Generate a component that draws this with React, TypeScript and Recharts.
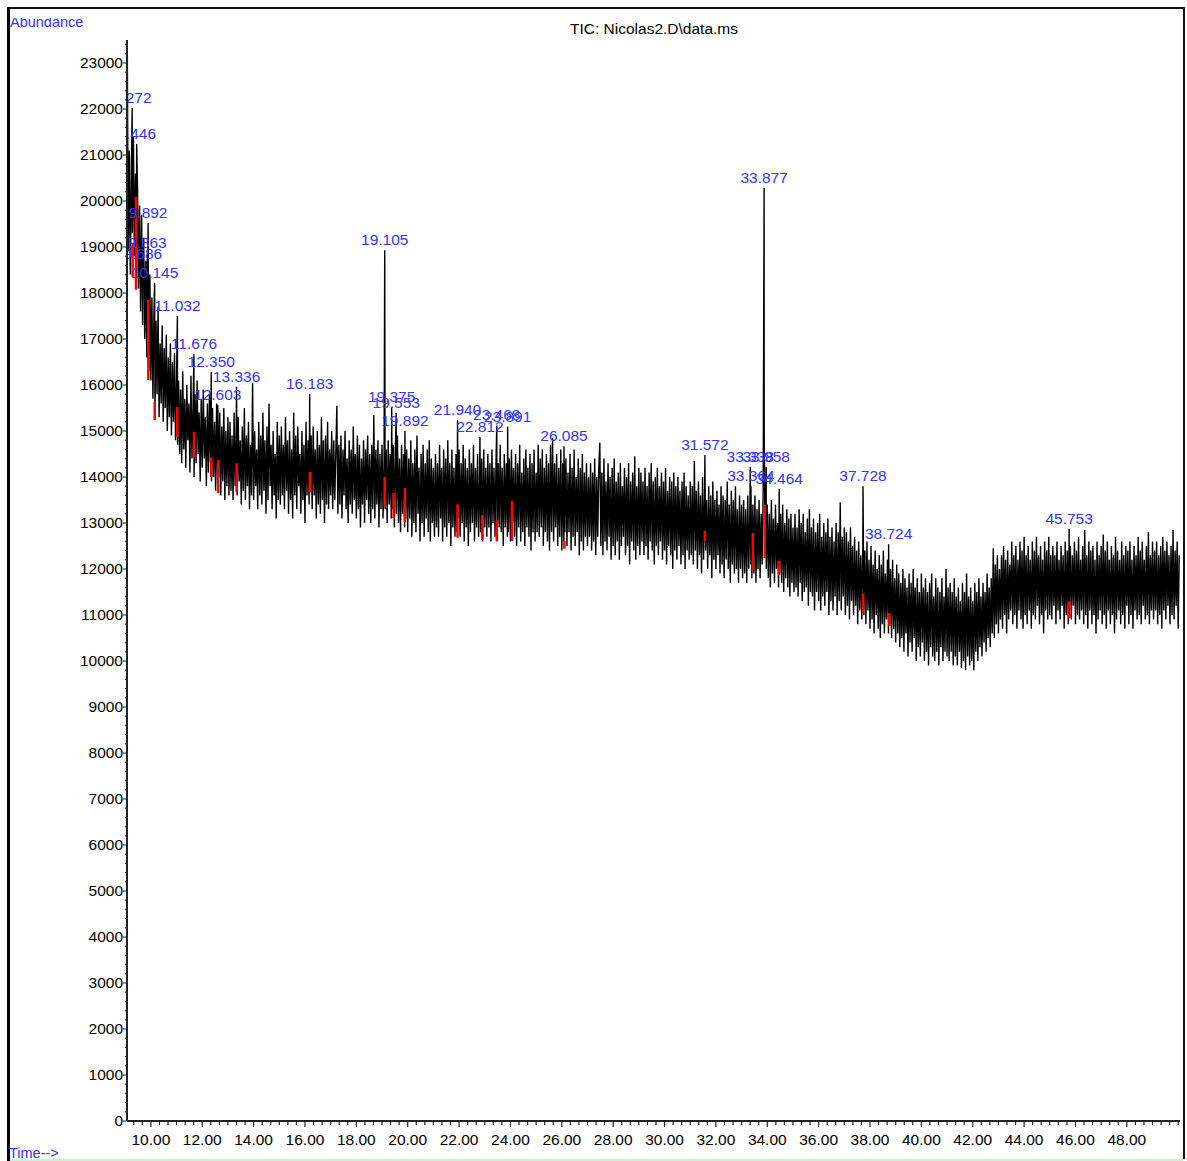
import React from 'react';
import { ComposedChart, Line, Scatter, XAxis, YAxis } from 'recharts';

// Layout of the chromatogram window
const WIDTH = 1187;
const HEIGHT = 1161;
const PLOT_LEFT = 127;
const PLOT_RIGHT = 1180;
const PLOT_TOP = 40;
const PLOT_BOTTOM = 1121;

const FONT = '"Liberation Sans", Arial, sans-serif';
const FONT_SIZE = 15.5;
const LABEL_BLUE = '#3535ff';
const AXIS_COLOR = '#222';

// Total ion current, one scan block every 0.04 min starting at 9.08 min,
// kept in 2-minute runs
const SCAN_START = 9.08;
const SCAN_STEP = 0.04;

const tic_0908 = [
  23450, 18900, 21100, 18400, 20700, 19300, 21400, 18800, 20600, 18300,
  20300, 18100, 19900, 17600, 19700, 17300, 19200, 17000, 18700, 16600,
  18200, 16300, 18400, 16100, 17900, 15700, 17600, 15400, 17400, 15800,
  17700, 15300, 16900, 15600, 17300, 15200, 16800, 15500, 17100, 15000,
  16600, 15300, 16900, 14900, 16500, 15200, 16700, 14800, 16200, 14700,
];
const tic_1108 = [
  16100, 14500, 15900, 14300, 16300, 14600, 15700, 14200, 16000, 14800,
  15600, 14100, 16200, 14400, 15500, 14000, 15800, 14300, 16100, 14500,
  15400, 13900, 15700, 14200, 15900, 14400, 15300, 13800, 15600, 14100,
  15800, 14300, 13900, 15500, 14000, 15200, 13700, 15600, 13800, 14000,
  15400, 13600, 15100, 13900, 15500, 13500, 15000, 13800, 15300, 13600,
];
const tic_1308 = [
  15200, 13700, 14900, 13500, 15400, 13800, 15000, 13600, 15300, 13900,
  14800, 13400, 15100, 13700, 15500, 13500, 14900, 13800, 15200, 13300,
  14700, 13600, 16050, 13500, 15000, 13800, 14600, 13300, 15200, 13600,
  14900, 13400, 15400, 13700, 14800, 13200, 15100, 13500, 15600, 13800,
  14700, 13300, 15000, 13600, 14500, 13100, 15200, 13500, 14900, 13400,
];
const tic_1508 = [
  15100, 13600, 14700, 13300, 15300, 13700, 14800, 13200, 15000, 13500,
  14600, 13100, 15400, 13600, 14900, 13300, 15100, 13800, 14500, 13200,
  15000, 13500, 14700, 13000, 15200, 13600, 14800, 13400, 13700, 14900,
  13300, 15100, 13600, 14600, 13100, 15000, 13400, 14700, 13200, 15300,
  13500, 14800, 13000, 14900, 13400, 15200, 13300, 14600, 13600, 15000,
];
const tic_1708 = [
  13300, 14800, 13500, 14500, 15550, 13200, 14700, 13400, 14900, 13100,
  14600, 13600, 15000, 13300, 14400, 13000, 14800, 13400, 14600, 13200,
  15100, 13500, 14500, 13100, 14900, 13300, 14700, 12900, 14400, 13400,
  14800, 13000, 14600, 13500, 14900, 13200, 14500, 13000, 14700, 13300,
  15350, 13100, 14600, 13400, 14800, 12900, 14500, 13300, 14700, 13100,
];
const tic_1908 = [
  14400, 13300, 14600, 13000, 14800, 13400, 14500, 13100, 13300, 14700,
  12900, 14600, 13200, 14900, 13000, 14400, 12800, 14700, 13200, 14500,
  12900, 13100, 14600, 12800, 14400, 13100, 14800, 12700, 14300, 13000,
  14600, 12800, 14900, 13200, 14200, 12600, 14500, 13000, 14700, 12700,
  14300, 13100, 14600, 12800, 14800, 12600, 14400, 13000, 14200, 12700,
];
const tic_2108 = [
  14500, 12900, 14300, 12700, 14700, 13100, 14200, 12600, 14600, 12900,
  14400, 12700, 14800, 13000, 14300, 12500, 14600, 12900, 14200, 12700,
  14500, 12800, 13100, 14600, 12700, 14300, 13000, 14700, 12600, 14400,
  12900, 14200, 12500, 14600, 12800, 14300, 13000, 14700, 12600, 14200,
  12900, 14500, 12700, 14100, 12800, 14400, 12600, 14600, 12900, 14200,
];
const tic_2308 = [
  12700, 14500, 12900, 14300, 12600, 14600, 13000, 14200, 12700, 14400,
  12600, 14300, 12900, 14700, 12800, 14200, 12500, 14500, 12900, 14300,
  12700, 12800, 14400, 12600, 14600, 13000, 14200, 12700, 14500, 12500,
  14300, 12900, 14700, 12600, 14100, 12800, 14400, 12500, 14600, 12900,
  14200, 12700, 14500, 12400, 14300, 12800, 14600, 12600, 14100, 12800,
];
const tic_2508 = [
  14700, 12700, 14400, 12900, 14600, 12500, 14200, 12800, 14500, 12600,
  14300, 12400, 14700, 12800, 14850, 12600, 14300, 12900, 14500, 12500,
  14200, 12700, 14600, 12400, 14300, 12600, 12800, 14400, 12500, 14100,
  12800, 14500, 12400, 14200, 12700, 14600, 12500, 14000, 12800, 14400,
  12300, 14200, 12600, 14500, 12400, 14100, 12700, 14300, 12500, 14000,
];
const tic_2708 = [
  12700, 14300, 12400, 14100, 12600, 14400, 12300, 14000, 12700, 14200,
  14750, 12500, 14100, 12300, 14400, 12600, 13900, 12400, 14300, 12700,
  14000, 12200, 14200, 12500, 14400, 12300, 13900, 12600, 14100, 12200,
  14300, 12500, 13800, 12700, 14200, 12300, 14000, 12500, 14300, 12100,
  13900, 12600, 14100, 12400, 14450, 12200, 13800, 12500, 14200, 12300,
];
const tic_2908 = [
  14100, 12600, 13900, 12300, 14200, 12500, 13800, 12200, 14100, 12600,
  14300, 12400, 13900, 12100, 14000, 12500, 14200, 12300, 13800, 12600,
  14100, 12200, 13900, 12400, 14200, 12100, 13700, 12500, 14000, 12300,
  13900, 12000, 14100, 12400, 13800, 12200, 14000, 12500, 13700, 12100,
  13900, 12300, 14100, 12000, 13800, 12400, 13600, 12200, 13900, 12300,
];
const tic_3108 = [
  13800, 12100, 14350, 12400, 13700, 12000, 13900, 12300, 13600, 11900,
  14000, 12200, 13700, 12400, 13500, 12000, 13800, 12300, 13600, 11800,
  13900, 12200, 13500, 12000, 13700, 12300, 13400, 11900, 13800, 12100,
  13600, 11800, 13500, 12200, 13900, 12000, 13400, 11700, 13700, 12100,
  13500, 11900, 13800, 12000, 13300, 11700, 13600, 12000, 13400, 11800,
];
const tic_3308 = [
  13500, 11900, 13300, 11700, 13600, 12000, 13200, 12100, 11800, 13400,
  11900, 13600, 11700, 13300, 12000, 13500, 11800, 13200, 12100, 13700,
  15000, 12300, 12000, 13400, 11800, 13200, 11600, 13500, 11900, 13100,
  11700, 13400, 12000, 13000, 11600, 11900, 13200, 11700, 13400, 11500,
  13000, 11800, 13300, 11600, 13100, 11400, 13200, 11700, 12900, 11500,
];
const tic_3508 = [
  13200, 11600, 12900, 11400, 13300, 11700, 13000, 11300, 13200, 11500,
  12800, 11600, 13100, 11200, 13300, 11500, 12900, 11400, 13100, 11100,
  12800, 11500, 13000, 11300, 13200, 11100, 12700, 11400, 13000, 11200,
  12800, 11500, 13100, 11000, 12700, 11300, 12900, 11100, 12600, 11400,
  13000, 11000, 12800, 11300, 13450, 11100, 12700, 11400, 12900, 11000,
];
const tic_3708 = [
  12800, 11200, 12600, 10900, 12900, 11300, 12500, 11000, 12700, 11200,
  12400, 10800, 12600, 11100, 12300, 10900, 12500, 11000, 12400, 10800,
  12600, 11100, 12200, 10700, 12500, 10900, 12100, 10600, 12400, 11000,
  12000, 10700, 12300, 10500, 12100, 10800, 12400, 10600, 11900, 10900,
  12200, 10600, 10800, 12000, 10500, 12200, 10700, 11800, 10400, 12100,
];
const tic_3908 = [
  10600, 11900, 10300, 11700, 10500, 12000, 10200, 11800, 10600, 11600,
  10100, 11900, 10400, 11700, 10200, 12000, 10500, 11600, 10000, 11800,
  10300, 11500, 10100, 11900, 10400, 11600, 10000, 11800, 10200, 11500,
  9900, 11700, 10300, 11900, 10100, 11400, 10000, 11800, 10200, 11600,
  9900, 11500, 10300, 11800, 10000, 11400, 10200, 12000, 10100, 11600,
];
const tic_4108 = [
  10000, 11700, 10200, 11500, 9900, 11800, 10100, 11400, 9900, 11600,
  10200, 11300, 9850, 11700, 10000, 11500, 9800, 11900, 10100, 11400,
  9900, 11600, 10000, 11300, 9800, 11700, 10200, 11500, 10000, 11800,
  10300, 11400, 10100, 11700, 10400, 11500, 10200, 11900, 10500, 11600,
  10300, 11800, 10600, 12450, 10500, 12100, 10800, 12300, 10600, 12000,
];
const tic_4308 = [
  10900, 12300, 10700, 12500, 11000, 12200, 10600, 12400, 10900, 12100,
  11100, 12600, 10800, 12300, 11000, 12500, 10700, 12200, 11100, 12600,
  10900, 12400, 10700, 12700, 11000, 12300, 10800, 12500, 11100, 12200,
  10700, 12600, 11000, 12400, 10900, 12700, 11200, 12300, 10800, 12500,
  11000, 12200, 10600, 12600, 11100, 12400, 10900, 12700, 11000, 12300,
];
const tic_4508 = [
  10900, 12500, 11200, 12300, 10800, 12600, 11100, 12200, 10900, 12500,
  11200, 12300, 10700, 12600, 11000, 12400, 10800, 11100, 12500, 10900,
  12300, 11200, 12600, 10800, 12400, 11000, 12700, 10900, 12200, 11100,
  12500, 10800, 12850, 11000, 12300, 10700, 12600, 11100, 12400, 10800,
  12500, 11000, 12200, 10600, 12600, 10900, 12300, 11100, 12500, 10800,
];
const tic_4708 = [
  12750, 11000, 12400, 10700, 12600, 11100, 12200, 10800, 12500, 11000,
  12300, 10600, 12700, 10900, 12400, 11100, 12200, 10800, 12600, 11000,
  12300, 10700, 12500, 11200, 12400, 10800, 12600, 11000, 12200, 10700,
  12500, 11100, 12300, 10900, 12700, 11000, 12400, 10800, 12600, 11200,
  12200, 10900, 12500, 11000, 12800, 10800, 12300, 11100, 12600, 10900,
];
const tic_4908 = [
  12400, 11100, 12600, 10800, 12300, 11000, 12500, 10700, 12700, 11100,
  12400, 10900, 12600, 11200, 12300, 10800, 12500, 11000, 12850, 10900,
  12400, 11200, 12600, 10700, 12300,
];

const TIC_RUNS = [
  tic_0908, tic_1108, tic_1308, tic_1508, tic_1708, tic_1908, tic_2108,
  tic_2308, tic_2508, tic_2708, tic_2908, tic_3108, tic_3308, tic_3508,
  tic_3708, tic_3908, tic_4108, tic_4308, tic_4508, tic_4708, tic_4908,
];

// Integrated peaks: apex retention time (min) and apex abundance
const PEAK_TIMES = [
  9.272, 9.446, 9.686, 9.863, 9.892, 10.145, 11.032, 11.676, 12.35, 12.603,
  13.336, 16.183, 19.105, 19.375, 19.553, 19.892, 21.94, 22.812, 23.468, 23.891,
  26.085, 31.572, 33.338, 33.364, 33.877, 33.958, 34.464, 37.728, 38.724, 45.753,
];
const PEAK_ABUNDANCE = [
  22020, 21240, 18630, 18870, 19520, 18220, 17500, 16670, 16280, 15565,
  15960, 15800, 18930, 15520, 15390, 15000, 15240, 14870, 15120, 15090,
  14670, 14480, 14220, 13800, 20280, 14220, 13740, 13800, 12540, 12870,
];

// Integrated (red) portions of the trace: time, lower and upper abundance
const RED_TIMES = [
  9.29, 9.42, 9.9, 10.15, 11.03, 11.68, 12.35, 12.62, 13.34, 16.19,
  19.105, 19.45, 19.89, 21.94, 22.9, 23.47, 24.06, 26.1, 31.57, 33.44,
  33.9, 34.46, 37.73, 38.75, 45.76,
];
const RED_LOW = [
  18350, 18070, 16110, 15240, 14870, 14430, 14000, 13650, 13670, 13670,
  13350, 13110, 13020, 12680, 12630, 12610, 12610, 12440, 12610, 11980,
  12240, 11870, 11040, 10760, 10930,
];
const RED_HIGH = [
  19090, 20090, 17850, 15630, 15520, 14980, 14430, 14370, 14300, 14110,
  14000, 13650, 13760, 13410, 13170, 13060, 13480, 12610, 12830, 12780,
  13390, 12180, 11460, 11040, 11300,
];

// Axis ticks
const Y_MAJOR = [
  0, 1000, 2000, 3000, 4000, 5000, 6000, 7000, 8000, 9000, 10000, 11000,
  12000, 13000, 14000, 15000, 16000, 17000, 18000, 19000, 20000, 21000, 22000, 23000,
];
const X_MAJOR = [10, 12, 14, 16, 18, 20, 22, 24, 26, 28, 30, 32, 34, 36, 38, 40, 42, 44, 46, 48];
const X_DOMAIN: [number, number] = [9.07, 50.07];
const Y_DOMAIN: [number, number] = [0, 23500];

const samples = TIC_RUNS.flat().map((a, i) => ({
  t: Math.round((SCAN_START + i * SCAN_STEP) * 1000) / 1000,
  a,
}));
const peaks = PEAK_TIMES.map((t, i) => ({ t, a: PEAK_ABUNDANCE[i], label: t.toFixed(3) }));
const trace = [...samples, ...peaks.map((p) => ({ t: p.t, a: p.a }))].sort((p, q) => p.t - q.t);
const redPath = RED_TIMES.flatMap((t, i) => [
  { t, r: RED_LOW[i] },
  { t, r: RED_HIGH[i] },
  { t, r: null },
]);

const yTicks = Array.from({ length: 118 }, (_, k) => k * 200);
const xTicks = Array.from({ length: 123 }, (_, k) => Math.round((9 + (k + 1) / 3) * 10000) / 10000);

const isMajorX = (v: number) => X_MAJOR.some((m) => Math.abs(m - v) < 1e-6);

const YTick = (props: any) => {
  const { y, payload } = props;
  const v = payload.value as number;
  const major = Y_MAJOR.includes(v);
  return (
    <g>
      <line x1={PLOT_LEFT - (major ? 4 : 2)} x2={PLOT_LEFT} y1={y} y2={y} stroke={AXIS_COLOR} strokeWidth={1} />
      {major && (
        <text
          x={PLOT_LEFT - 4}
          y={y + 5}
          textAnchor="end"
          fontFamily={FONT}
          fontSize={FONT_SIZE}
          fill="#000"
        >
          {v}
        </text>
      )}
    </g>
  );
};

const XTick = (props: any) => {
  const { x, payload } = props;
  const v = payload.value as number;
  const major = isMajorX(v);
  return (
    <g>
      <line x1={x} x2={x} y1={PLOT_BOTTOM} y2={PLOT_BOTTOM + (major ? 6 : 4)} stroke={AXIS_COLOR} strokeWidth={1.2} />
      {major && (
        <text
          x={x}
          y={PLOT_BOTTOM + 24}
          textAnchor="middle"
          fontFamily={FONT}
          fontSize={FONT_SIZE}
          fill="#000"
        >
          {v.toFixed(2)}
        </text>
      )}
    </g>
  );
};

const PeakLabel = (props: any) => {
  const { cx, cy, payload } = props;
  if (cx == null || cy == null) return <g />;
  return (
    <text
      x={cx}
      y={cy - 5}
      textAnchor="middle"
      fontFamily={FONT}
      fontSize={FONT_SIZE}
      fill={LABEL_BLUE}
      clipPath="url(#plot-clip)"
    >
      {payload.label}
    </text>
  );
};

export default function App() {
  return (
    <div style={{ position: 'relative', width: WIDTH, height: HEIGHT, background: '#fff' }}>
      <style>{'body{margin:0;}'}</style>
      <ComposedChart
        width={WIDTH}
        height={HEIGHT}
        data={trace}
        margin={{ top: PLOT_TOP, right: WIDTH - PLOT_RIGHT, bottom: 0, left: 0 }}
      >
        <XAxis
          dataKey="t"
          type="number"
          domain={X_DOMAIN}
          ticks={xTicks}
          interval={0}
          height={HEIGHT - PLOT_BOTTOM}
          tickLine={false}
          axisLine={{ stroke: AXIS_COLOR, strokeWidth: 2 }}
          tick={<XTick />}
        />
        <YAxis
          type="number"
          domain={Y_DOMAIN}
          ticks={yTicks}
          interval={0}
          width={PLOT_LEFT}
          tickLine={false}
          axisLine={{ stroke: AXIS_COLOR, strokeWidth: 2 }}
          tick={<YTick />}
        />
        <Line
          dataKey="a"
          type="linear"
          stroke="#000"
          strokeWidth={1.4}
          dot={false}
          activeDot={false}
          isAnimationActive={false}
        />
        <Line
          data={redPath}
          dataKey="r"
          type="linear"
          stroke="#ff0000"
          strokeWidth={2.5}
          dot={false}
          activeDot={false}
          connectNulls={false}
          isAnimationActive={false}
        />
        <Scatter data={peaks} dataKey="a" shape={<PeakLabel />} isAnimationActive={false} />
      </ComposedChart>
      <svg
        width={WIDTH}
        height={HEIGHT}
        style={{ position: 'absolute', left: 0, top: 0, pointerEvents: 'none' }}
      >
        <defs>
          <clipPath id="plot-clip" clipPathUnits="userSpaceOnUse">
            <rect x={PLOT_LEFT + 1} y={0} width={WIDTH - PLOT_LEFT} height={HEIGHT} />
          </clipPath>
        </defs>
        <line x1={7} x2={1185} y1={8} y2={8} stroke="#111" strokeWidth={2} />
        <line x1={8.5} x2={8.5} y1={7} y2={HEIGHT} stroke="#000" strokeWidth={3} />
        <line x1={1184} x2={1184} y1={7} y2={HEIGHT - 2} stroke="#111" strokeWidth={2} />
        <line x1={10} x2={1183} y1={HEIGHT - 1} y2={HEIGHT - 1} stroke="#c9f5c9" strokeWidth={2} />
        <text x={654} y={34} textAnchor="middle" fontFamily={FONT} fontSize={FONT_SIZE} fill="#000">
          TIC: Nicolas2.D\data.ms
        </text>
        <svg x={8} y={18} width={120} height={14} overflow="hidden">
          <text x={2} y={9} fontFamily={FONT} fontSize={FONT_SIZE - 1} fill={LABEL_BLUE}>
            Abundance
          </text>
        </svg>
        <text x={9} y={1158} fontFamily={FONT} fontSize={FONT_SIZE - 1} fill={LABEL_BLUE}>
          Time--&gt;
        </text>
      </svg>
    </div>
  );
}
